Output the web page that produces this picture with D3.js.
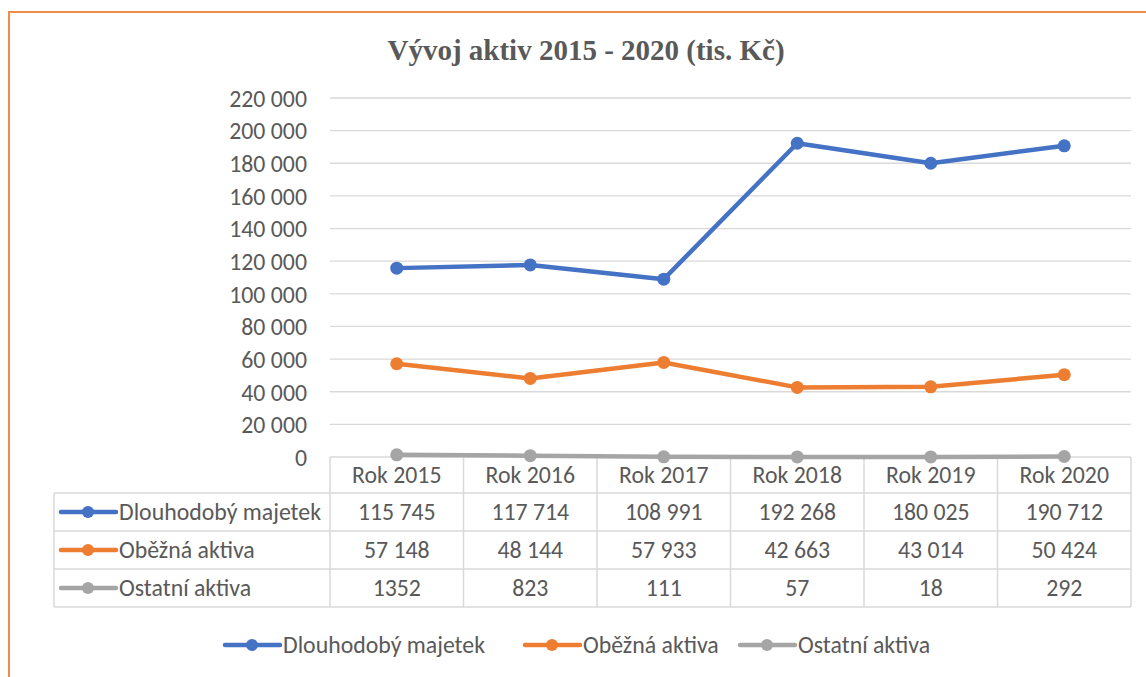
<!DOCTYPE html>
<html>
<head>
<meta charset="utf-8">
<title>Vývoj aktiv 2015 - 2020</title>
<script src="https://d3js.org/d3.v7.min.js"></script>
<style>
body { margin: 0; background: #fff; }
svg text { font-family: Carlito, Lato, "Open Sans", sans-serif; fill: #595959; }
</style>
</head>
<body>
<svg id="chart" width="1146" height="677"></svg>
<script>
// data
var years = ["Rok 2015", "Rok 2016", "Rok 2017", "Rok 2018", "Rok 2019", "Rok 2020"];
var dlouhodoby = [115745, 117714, 108991, 192268, 180025, 190712];
var obezna = [57148, 48144, 57933, 42663, 43014, 50424];
var ostatni = [1352, 823, 111, 57, 18, 292];
var seriesNames = ["Dlouhodobý majetek", "Oběžná aktiva", "Ostatní aktiva"];
var seriesColors = ["#4472C4", "#ED7D31", "#A5A5A5"];
var yTicks = [0, 20000, 40000, 60000, 80000, 100000, 120000, 140000, 160000, 180000, 200000, 220000];

var allSeries = [dlouhodoby, obezna, ostatni];
var grouped = [true, true, false]; // last row shown without thousands space

var cz = d3.formatLocale({ decimal: ",", thousands: " ", grouping: [3], currency: ["", " Kč"] });
var fmt = cz.format(",d");

var svg = d3.select("#chart");
var fontSize = "23.8px";

// orange frame
svg.append("path")
    .attr("d", "M9,680 L9,12 L1150,12")
    .attr("fill", "none")
    .attr("stroke", "#EF8B4B")
    .attr("stroke-width", 2);

// title
svg.append("text")
    .attr("x", 586).attr("y", 60)
    .attr("text-anchor", "middle")
    .style("font-family", "'Liberation Serif', 'Times New Roman', serif")
    .style("font-weight", "bold")
    .style("font-size", "29px")
    .text("Vývoj aktiv 2015 - 2020 (tis. Kč)");

var plotLeft = 330, plotRight = 1131, plotTop = 98, plotBottom = 457;
var x = d3.scaleBand().domain(years).range([plotLeft, plotRight]);
var y = d3.scaleLinear().domain([0, 220000]).range([plotBottom, plotTop]);

// gridlines
svg.append("g").selectAll("line").data(yTicks.slice(1)).enter().append("line")
    .attr("x1", plotLeft).attr("x2", plotRight)
    .attr("y1", function (d) { return y(d); })
    .attr("y2", function (d) { return y(d); })
    .attr("stroke", "#D9D9D9")
    .attr("stroke-width", 1.3);

// y axis labels
var yAxis = d3.axisLeft(y).tickValues(yTicks).tickFormat(fmt).tickSize(0).tickPadding(0);
var ya = svg.append("g").attr("transform", "translate(307,0)").call(yAxis);
ya.select(".domain").remove();
ya.selectAll("text")
    .attr("dy", "0.35em")
    .attr("font-family", null)
    .attr("font-size", null)
    .attr("fill", null)
    .style("font-size", fontSize);

// data table
var rowEdges = [457, 493, 531, 569, 607];
var tableLeft = 54;
var grid = svg.append("g").attr("stroke", "#D9D9D9").attr("stroke-width", 1.5).attr("fill", "none");
// horizontal lines
rowEdges.forEach(function (yy, i) {
    grid.append("line")
        .attr("x1", i === 0 ? plotLeft : tableLeft).attr("x2", plotRight)
        .attr("y1", yy).attr("y2", yy);
});
// vertical lines
years.forEach(function (yr) {
    grid.append("line")
        .attr("x1", x(yr)).attr("x2", x(yr))
        .attr("y1", rowEdges[0]).attr("y2", rowEdges[4]);
});
grid.append("line").attr("x1", plotRight).attr("x2", plotRight).attr("y1", rowEdges[0]).attr("y2", rowEdges[4]);
grid.append("line").attr("x1", tableLeft).attr("x2", tableLeft).attr("y1", rowEdges[1]).attr("y2", rowEdges[4]);

// header
svg.append("g").selectAll("text").data(years).enter().append("text")
    .attr("x", function (d) { return x(d) + x.bandwidth() / 2; })
    .attr("y", (rowEdges[0] + rowEdges[1]) / 2)
    .attr("dy", "0.35em")
    .attr("text-anchor", "middle")
    .style("font-size", fontSize)
    .text(function (d) { return d; });

// rows
allSeries.forEach(function (vals, s) {
    var cy = (rowEdges[s + 1] + rowEdges[s + 2]) / 2;
    var row = svg.append("g");
    row.append("line")
        .attr("x1", 61).attr("x2", 116).attr("y1", cy).attr("y2", cy)
        .attr("stroke", seriesColors[s]).attr("stroke-width", 4.5).attr("stroke-linecap", "round");
    row.append("circle").attr("cx", 88).attr("cy", cy).attr("r", 6).attr("fill", seriesColors[s]);
    row.append("text")
        .attr("x", 119).attr("y", cy).attr("dy", "0.35em")
        .style("font-size", fontSize)
        .text(seriesNames[s]);
    row.selectAll("text.v").data(vals).enter().append("text")
        .attr("class", "v")
        .attr("x", function (d, i) { return x(years[i]) + x.bandwidth() / 2; })
        .attr("y", cy).attr("dy", "0.35em")
        .attr("text-anchor", "middle")
        .style("font-size", fontSize)
        .text(function (d) { return grouped[s] ? fmt(d) : d; });
});

// lines + markers, drawn last-to-first so blue sits on top
var line = d3.line()
    .x(function (d, i) { return x(years[i]) + x.bandwidth() / 2; })
    .y(function (d) { return y(d); });

for (var s = allSeries.length - 1; s >= 0; s--) {
    var g = svg.append("g");
    g.append("path")
        .datum(allSeries[s])
        .attr("d", line)
        .attr("fill", "none")
        .attr("stroke", seriesColors[s])
        .attr("stroke-width", 4.5)
        .attr("stroke-linejoin", "round")
        .attr("stroke-linecap", "round");
    g.selectAll("circle").data(allSeries[s]).enter().append("circle")
        .attr("cx", function (d, i) { return x(years[i]) + x.bandwidth() / 2; })
        .attr("cy", function (d) { return y(d); })
        .attr("r", 6.5)
        .attr("fill", seriesColors[s]);
}

// legend
var legendX = [225, 525, 740];
var legend = svg.append("g");
seriesNames.forEach(function (name, s) {
    var lx = legendX[s], ly = 645;
    legend.append("line")
        .attr("x1", lx).attr("x2", lx + 55).attr("y1", ly).attr("y2", ly)
        .attr("stroke", seriesColors[s]).attr("stroke-width", 4.5).attr("stroke-linecap", "round");
    legend.append("circle").attr("cx", lx + 27).attr("cy", ly).attr("r", 6).attr("fill", seriesColors[s]);
    legend.append("text")
        .attr("x", lx + 58).attr("y", ly).attr("dy", "0.35em")
        .style("font-size", fontSize)
        .text(name);
});
</script>
</body>
</html>
